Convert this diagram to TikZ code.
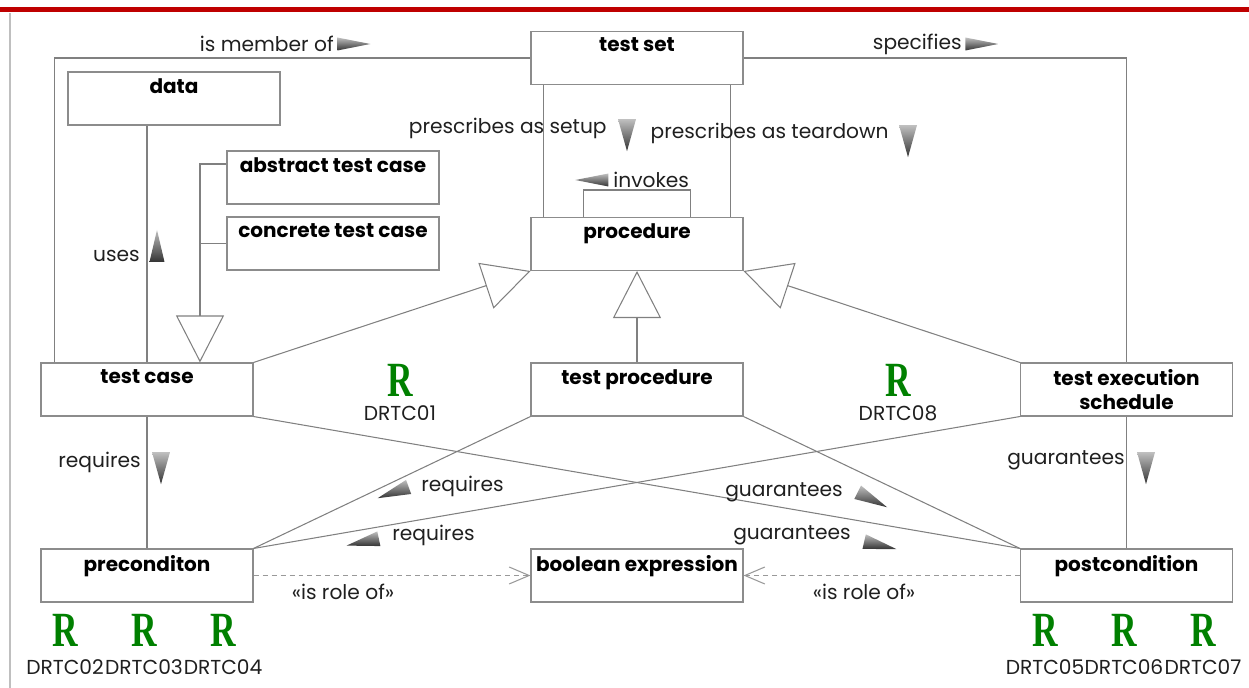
\documentclass[tikz,border=0pt]{standalone}
\usepackage{fontspec}
\setmainfont{Poppins}
\newfontfamily\rfont{Liberation Serif}
\usepackage{graphicx}
\usetikzlibrary{positioning,arrows.meta,shapes.geometric}

\tikzset{
  cls/.style={draw=black!45, line width=0.6pt, minimum width=4.24cm, minimum height=1.06cm, inner sep=0pt},
  title/.style={anchor=north, inner sep=0.13cm, font=\fontsize{11.4}{14}\selectfont\bfseries, align=center},
  assoc/.style={draw=black!50, line width=0.6pt},
  gen/.style={assoc, -{Triangle[open, length=0.94cm, width=0.96cm]}},
  role/.style={draw=black!40, line width=0.6pt, dash pattern=on 0.1cm off 0.08cm, -{Straight Barb[length=0.4cm, width=0.34cm]}},
  lbl/.style={font=\fontsize{11.5}{14}\selectfont, text=black!88, inner sep=0pt},
  dirtri/.style={isosceles triangle, isosceles triangle stretches, inner sep=0pt, minimum height=0.66cm, minimum width=0.26cm, top color=black!25, bottom color=black!80, draw=none},
  req/.style={text=green!50!black, font=\fontsize{28}{30}\rfont\bfseries, inner sep=0pt},
}

\begin{document}
\begin{tikzpicture}[x=0.02cm, y=-0.02cm]
\useasboundingbox (0,0) rectangle (1249,688);
\fill[red!75!black] (0,7) rectangle (1249,12);
\draw[black!25, line width=0.04cm] (10,13) -- (10,688);

% classes
\node[cls, label={[title]north:test set}] (tset) at (637,58) {};
\node[cls, label={[title]north:data}] (data) at (174,98.5) {};
\node[cls, label={[title]north:abstract test case}] (abs) at (333,177.5) {};
\node[cls, label={[title]north:concrete test case}] (conc) at (333,243.5) {};
\node[cls, label={[title]north:procedure}] (proc) at (637,244) {};
\node[cls, label={[title]north:test case}] (tcase) at (147,389.5) {};
\node[cls, label={[title]north:test procedure}] (tproc) at (637,389.5) {};
\node[cls, label={[title]north:test execution\\schedule}] (tes) at (1126.5,389.5) {};
\node[cls, label={[title]north:preconditon}] (pre) at (147,575.5) {};
\node[cls, label={[title]north:boolean expression}] (bool) at (637,575.5) {};
\node[cls, label={[title]north:postcondition}] (post) at (1126.5,575.5) {};

% associations
\draw[assoc] ([xshift=0.28cm]tcase.north west) |- (tset.west);
\draw[assoc] (tset.east) -| (tes.north);
\draw[assoc] (tcase.north) -- (tcase.north |- data.south);
\draw[assoc] ([xshift=0.26cm]tset.south west) -- ([xshift=0.26cm]proc.north west);
\draw[assoc] ([xshift=-0.26cm]tset.south east) -- ([xshift=-0.26cm]proc.north east);
\draw[assoc] ([xshift=1.06cm]proc.north west) |- ([yshift=0.54cm]proc.north) -| ([xshift=-1.06cm]proc.north east);

\foreach \from/\to in {tcase.south/pre.north, tes.south/post.north, tcase.south east/post.north west, tproc.south west/pre.north east, tproc.south east/post.north west, tes.south west/pre.north east}
  \draw[assoc] (\from) -- (\to);

% generalisations
\coordinate (split) at ([xshift=1.06cm]tcase.north);
\draw[gen] ([yshift=0.27cm]abs.west) -| (split);
\draw[assoc] (conc.west) -- (conc.west -| split);
\draw[gen] (tcase.north east) -- (proc.south west);
\draw[gen] (tproc.north) -- (proc.south);
\draw[gen] (tes.north west) -- (proc.south east);

% roles
\draw[role] (pre.east) -- (bool.west);
\draw[role] (post.west) -- (bool.east);

% association names
\node[lbl, anchor=east] (memlbl) at (334,44) {is member of};
\node[dirtri, right=0.06cm of memlbl] (memdir) {};
\node[lbl, anchor=east] (speclbl) at (962,44) {specifies};
\node[dirtri, right=0.06cm of speclbl] (specdir) {};
\node[lbl, anchor=east] (setuplbl) at (607,128) {prescribes as setup};
\node[dirtri, minimum height=0.64cm, minimum width=0.36cm, rotate=-90] (setupdir) at (627,126) {};
\node[lbl, anchor=east] (teardownlbl) at (889,133) {prescribes as teardown};
\node[dirtri, minimum height=0.64cm, minimum width=0.36cm, rotate=-90] (teardowndir) at (908,132) {};
\node[lbl, anchor=west] (invlbl) at (613,180) {invokes};
\node[dirtri, rotate=180] (invdir) at (603,180) {};
\node[lbl, anchor=east] (useslbl) at (140,256) {uses};
\node[dirtri, minimum height=0.64cm, minimum width=0.3cm, rotate=90] (usesdir) at (157,256) {};
\node[lbl, anchor=east] (reqlbl) at (141,462) {requires};
\node[dirtri, minimum height=0.64cm, minimum width=0.36cm, rotate=-90] (reqdir) at (161,459) {};
\node[lbl, anchor=east] (guarlbl) at (1125,460) {guarantees};
\node[dirtri, minimum height=0.64cm, minimum width=0.36cm, rotate=-90] (guardir) at (1146,459) {};
\node[lbl, anchor=west] (reqalbl) at (421,486) {requires};
\node[dirtri, minimum width=0.3cm, rotate=200] (reqadir) at (403,489) {};
\node[lbl, anchor=east] (guaralbl) at (843,492) {guarantees};
\node[dirtri, minimum width=0.3cm, rotate=-27] (guaradir) at (863,495) {};
\node[lbl, anchor=west] (reqblbl) at (392,535) {requires};
\node[dirtri, minimum width=0.3cm, rotate=192] (reqbdir) at (373,540) {};
\node[lbl, anchor=east] (guarblbl) at (851,535) {guarantees};
\node[dirtri, minimum width=0.3cm, rotate=-13] (guarbdir) at (870,543) {};
\node[lbl] (rolealbl) at (343,592) {«is role of»};
\node[lbl] (roleblbl) at (864,592) {«is role of»};

% requirements
\node[req] (r01) at (400,380) {\scalebox{0.72}[1]{R}};
\node[lbl] (id01) at (400,413) {DRTC01};
\node[req] (r08) at (898,380) {\scalebox{0.72}[1]{R}};
\node[lbl] (id08) at (898,413) {DRTC08};
\foreach \x/\n in {65/02, 144/03, 223/04, 1045/05, 1124/06, 1203/07} {
  \node[req] (r\n) at (\x,630) {\scalebox{0.72}[1]{R}};
  \node[lbl] (id\n) at (\x,667) {DRTC\n};
}
\end{tikzpicture}
\end{document}
